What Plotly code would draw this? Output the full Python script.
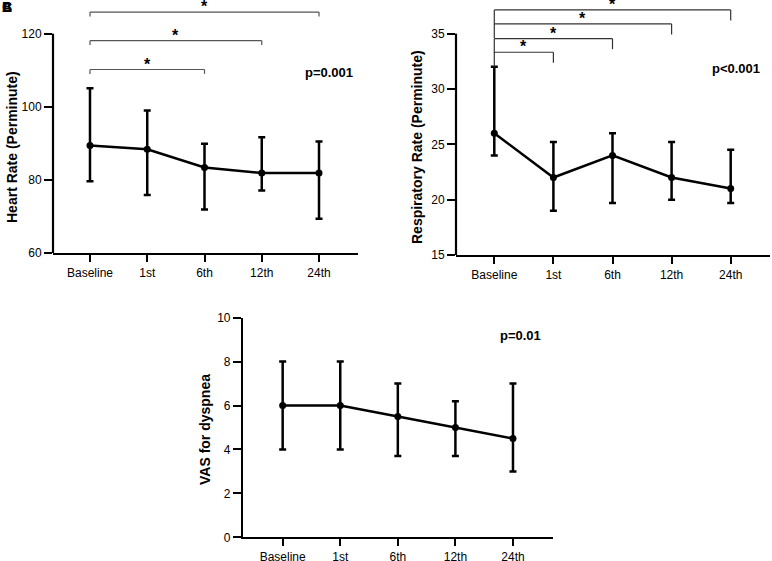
import plotly.graph_objects as go

# ---- data ----
categories = ["Baseline", "1st", "6th", "12th", "24th"]

heart_rate = [89.4, 88.4, 83.4, 81.9, 81.9]
heart_rate_upper = [105.1, 99.0, 89.9, 91.7, 90.5]
heart_rate_lower = [79.6, 75.9, 71.9, 77.1, 69.4]
heart_rate_pairs = [("Baseline", "6th"), ("Baseline", "12th"), ("Baseline", "24th")]
heart_rate_p = "p=0.001"

resp_rate = [26.0, 22.0, 24.0, 22.0, 21.0]
resp_rate_upper = [32.0, 25.2, 26.0, 25.2, 24.5]
resp_rate_lower = [24.0, 19.0, 19.7, 20.0, 19.7]
resp_rate_pairs = [("Baseline", "1st"), ("Baseline", "6th"),
                   ("Baseline", "12th"), ("Baseline", "24th")]
resp_rate_p = "p<0.001"

vas = [6.0, 6.0, 5.5, 5.0, 4.5]
vas_upper = [8.0, 8.0, 7.0, 6.2, 7.0]
vas_lower = [4.0, 4.0, 3.7, 3.7, 3.0]
vas_p = "p=0.01"

# ---- layout helpers (pixel positions on a 772x561 canvas) ----
W, H = 772, 561
FONT = "Liberation Sans, Arial, sans-serif"


def xdom(left, right):
    return [left / W, right / W]


def ydom(bottom, top):
    return [1 - bottom / H, 1 - top / H]


fig = go.Figure()

panels = [
    dict(y=heart_rate, hi=heart_rate_upper, lo=heart_rate_lower, xa="x", ya="y",
         title="Heart Rate (Perminute)", p=heart_rate_p,
         xdomain=xdom(53, 358), xrange=[-0.646, 4.681],
         ydomain=ydom(253, 2), yrange=[60, 128.67], ticks=[60, 80, 100, 120],
         title_pos=(12, 147), p_pos=(329, 72)),
    dict(y=resp_rate, hi=resp_rate_upper, lo=resp_rate_lower, xa="x2", ya="y2",
         title="Respiratory Rate (Perminute)", p=resp_rate_p,
         xdomain=xdom(456, 770), xrange=[-0.648, 4.665],
         ydomain=ydom(255, 2), yrange=[15, 37.86], ticks=[15, 20, 25, 30, 35],
         title_pos=(417, 147), p_pos=(736, 68)),
    dict(y=vas, hi=vas_upper, lo=vas_lower, xa="x3", ya="y3",
         title="VAS for dyspnea", p=vas_p,
         xdomain=xdom(243, 553), xrange=[-0.689, 4.695],
         ydomain=ydom(537.3, 317.7), yrange=[0, 10], ticks=[0, 2, 4, 6, 8, 10],
         title_pos=(205, 430), p_pos=(520, 335)),
]

annotations = []
shapes = []

for i, pn in enumerate(panels):
    err_plus = [h - v for h, v in zip(pn["hi"], pn["y"])]
    err_minus = [v - l for v, l in zip(pn["y"], pn["lo"])]
    fig.add_trace(go.Scatter(
        x=categories, y=pn["y"], xaxis=pn["xa"], yaxis=pn["ya"],
        mode="lines+markers",
        line=dict(color="black", width=2.5),
        marker=dict(color="black", size=7),
        error_y=dict(type="data", array=err_plus, arrayminus=err_minus,
                     color="black", thickness=2.5, width=3.5),
        showlegend=False, cliponaxis=False))

    suffix = "" if i == 0 else str(i + 1)
    own_line = i == 2
    fig.layout["xaxis" + suffix] = dict(
        domain=pn["xdomain"], range=pn["xrange"], type="category",
        showline=True, linecolor="black", linewidth=2.2, automargin=False,
        ticks="outside", ticklen=7, tickwidth=2, tickcolor="black",
        showgrid=False, zeroline=False, anchor=pn["ya"],
        tickfont=dict(family=FONT, size=12, color="black"))
    fig.layout["yaxis" + suffix] = dict(
        domain=pn["ydomain"], range=pn["yrange"], automargin=False,
        tickvals=pn["ticks"], showline=own_line, linecolor="black", linewidth=2.2,
        ticks="outside", ticklen=8, tickwidth=2, tickcolor="black",
        showgrid=False, zeroline=False, anchor=pn["xa"],
        tickfont=dict(family=FONT, size=12, color="black"))

    if not own_line:
        # axis line stops at the top tick, brackets sit above it
        shapes.append(dict(type="line", xref="paper", yref=pn["ya"],
                           x0=pn["xdomain"][0], x1=pn["xdomain"][0],
                           y0=pn["ticks"][0], y1=pn["ticks"][-1],
                           line=dict(color="black", width=2.2)))

    tx, ty = pn["title_pos"]
    annotations.append(dict(text="<b>%s</b>" % pn["title"], xref="paper", yref="paper",
                            x=tx / W, y=1 - ty / H, xanchor="center", yanchor="middle",
                            textangle=-90, showarrow=False,
                            font=dict(family=FONT, size=14, color="black")))
    px, py = pn["p_pos"]
    annotations.append(dict(text="<b>%s</b>" % pn["p"], xref="paper", yref="paper",
                            x=px / W, y=1 - py / H, xanchor="center", yanchor="middle",
                            showarrow=False,
                            font=dict(family=FONT, size=13, color="black")))

# significance brackets
bracket_sets = [
    ("x", "y", heart_rate_pairs, [110.2, 118.1, 125.9], 1.2, 1.2, "#555555"),
    ("x2", "y2", resp_rate_pairs, [33.32, 34.55, 35.88, 37.14], 1.3, 0.95, "#333333"),
]
for xa, ya, pairs, levels, left_drop, right_drop, col in bracket_sets:
    for (a, b), lev in zip(pairs, levels):
        path_pts = [(a, lev - left_drop), (a, lev), (b, lev), (b, lev - right_drop)]
        for (x0, y0), (x1, y1) in zip(path_pts[:-1], path_pts[1:]):
            shapes.append(dict(type="line", xref=xa, yref=ya, x0=x0, y0=y0, x1=x1, y1=y1,
                               line=dict(color=col, width=1.2)))
        ia, ib = categories.index(a), categories.index(b)
        annotations.append(dict(text="<b>*</b>", xref=xa, yref=ya, x=(ia + ib) / 2, y=lev,
                                yanchor="bottom", yshift=-5, showarrow=False,
                                font=dict(family=FONT, size=16, color="black")))

# overlapping panel letters in the corner, as in the source figure
for letter in ["A", "B", "C"]:
    annotations.append(dict(text="<b>%s</b>" % letter, xref="paper", yref="paper",
                            x=7 / W, y=1 - 7 / H, xanchor="center", yanchor="middle",
                            showarrow=False,
                            font=dict(family=FONT, size=14, color="black")))

fig.update_layout(
    template="none",
    width=W, height=H,
    margin=dict(l=0, r=0, t=0, b=0),
    paper_bgcolor="white", plot_bgcolor="white",
    shapes=shapes, annotations=annotations,
    font=dict(family=FONT, color="black"),
)

# drop the browser's default page margin so the figure fills the window
fig.write_html("out.html", config={"displayModeBar": False},
               post_script="document.body.style.margin = '0';")
